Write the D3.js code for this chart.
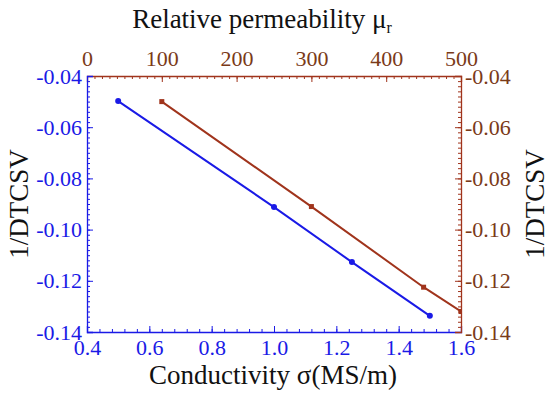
<!DOCTYPE html>
<html>
<head>
<meta charset="utf-8">
<script src="https://cdn.jsdelivr.net/npm/d3@7"></script>
<style>
  body { margin: 0; background: #fff; }
</style>
</head>
<body>
<div id="chart"></div>
<script>
// conductivity series (bottom / left axes)
const sigma = [0.5, 1.0, 1.25, 1.5];
const sigmaVals = [-0.0498, -0.0912, -0.1127, -0.1337];
// permeability series (top / right axes)
const mu = [100, 300, 450, 500];
const muVals = [-0.0500, -0.0910, -0.1225, -0.1320];

const xTicks = [0.4, 0.6, 0.8, 1.0, 1.2, 1.4, 1.6];
const topTicks = [0, 100, 200, 300, 400, 500];
const yTicks = [-0.04, -0.06, -0.08, -0.10, -0.12, -0.14];

const blue = '#1a1ae6';
const red = '#a0341c';
const labelRed = '#7a3a18';
const serif = '"Liberation Serif", "Times New Roman", serif';

const W = 550, H = 394;
const margin = { top: 76, right: 89, bottom: 62, left: 87 };
const width = W - margin.left - margin.right;
const height = H - margin.top - margin.bottom;

const svg = d3.select('#chart').append('svg')
  .attr('width', W).attr('height', H);
const g = svg.append('g')
  .attr('transform', 'translate(' + margin.left + ',' + margin.top + ')');

const x = d3.scaleLinear().domain([0.4, 1.6]).range([0, width]);
const xTop = d3.scaleLinear().domain([0, 500]).range([0, width]);
const y = d3.scaleLinear().domain([-0.14, -0.04]).range([height, 0]);

g.append('clipPath').attr('id', 'clip')
  .append('rect').attr('width', width).attr('height', height);

const hyph = f => d => f(d).replace('\u2212', '-');

// minor ticks
function minor(axis, scale, vals, pos, color) {
  const grp = g.append('g').attr('transform', pos)
    .call(axis(scale).tickValues(vals).tickSize(-3).tickFormat(''));
  grp.select('.domain').remove();
  grp.selectAll('line').attr('stroke', color);
}
minor(d3.axisBottom, x, d3.range(0.4, 1.6001, 0.04), 'translate(0,' + height + ')', blue);
minor(d3.axisTop, xTop, d3.range(0, 500.1, 10), 'translate(0,0)', red);
minor(d3.axisLeft, y, d3.range(-0.14, -0.0399, 0.002), 'translate(0,0)', blue);
minor(d3.axisRight, y, d3.range(-0.14, -0.0399, 0.002), 'translate(' + width + ',0)', red);

// major axes
function major(grp, color, textColor) {
  grp.attr('font-family', null).attr('font-size', null);
  grp.select('.domain').attr('stroke', color).attr('stroke-width', 1.3);
  grp.selectAll('.tick line').attr('stroke', color);
  grp.selectAll('.tick text').attr('fill', textColor || color)
    .style('font-family', serif).style('font-size', '22px');
}
const xAxisG = g.append('g').attr('transform', 'translate(0,' + height + ')')
  .call(d3.axisBottom(x).tickValues(xTicks).tickSize(-6).tickPadding(7).tickFormat(d3.format('.1f')));
major(xAxisG, blue);

const topAxisG = g.append('g')
  .call(d3.axisTop(xTop).tickValues(topTicks).tickSize(-6).tickPadding(10).tickFormat(d3.format('d')));
major(topAxisG, red, labelRed);

const yAxisG = g.append('g')
  .call(d3.axisLeft(y).tickValues(yTicks).tickSize(-6).tickPadding(5).tickFormat(hyph(d3.format('.2f'))));
major(yAxisG, blue);

const yRightG = g.append('g').attr('transform', 'translate(' + width + ',0)')
  .call(d3.axisRight(y).tickValues(yTicks).tickSize(-6).tickPadding(4).tickFormat(hyph(d3.format('.2f'))));
major(yRightG, red, labelRed);

// lines
const plot = g.append('g').attr('clip-path', 'url(#clip)');
const blueData = sigma.map((s, i) => [s, sigmaVals[i]]);
const redData = mu.map((m, i) => [m, muVals[i]]);

plot.append('path').datum(blueData)
  .attr('fill', 'none').attr('stroke', blue).attr('stroke-width', 2)
  .attr('d', d3.line().x(d => x(d[0])).y(d => y(d[1])));
plot.selectAll('.bdot').data(blueData).enter().append('circle')
  .attr('cx', d => x(d[0])).attr('cy', d => y(d[1])).attr('r', 3)
  .attr('fill', blue);

plot.append('path').datum(redData)
  .attr('fill', 'none').attr('stroke', red).attr('stroke-width', 2)
  .attr('d', d3.line().x(d => xTop(d[0])).y(d => y(d[1])));
plot.selectAll('.rdot').data(redData).enter().append('rect')
  .attr('x', d => xTop(d[0]) - 2.5).attr('y', d => y(d[1]) - 2.5)
  .attr('width', 5).attr('height', 5).attr('fill', red);

// titles
function title(sel) {
  return sel.style('font-family', serif).style('font-size', '27px').attr('fill', '#111');
}
title(svg.append('text').attr('x', margin.left + width / 2 - 1).attr('y', 384)
  .attr('text-anchor', 'middle'))
  .text('Conductivity σ(MS/m)');

const tt = title(svg.append('text').attr('x', 262).attr('y', 28)
  .attr('text-anchor', 'middle'));
tt.append('tspan').text('Relative permeability μ');
tt.append('tspan').attr('dy', 5).style('font-size', '16px').text('r');

title(svg.append('text')
  .attr('transform', 'translate(28,' + (margin.top + height / 2) + ') rotate(-90)')
  .attr('text-anchor', 'middle'))
  .text('1/DTCSV');

title(svg.append('text')
  .attr('transform', 'translate(544,' + (margin.top + height / 2) + ') rotate(-90)')
  .attr('text-anchor', 'middle'))
  .text('1/DTCSV');
</script>
</body>
</html>
